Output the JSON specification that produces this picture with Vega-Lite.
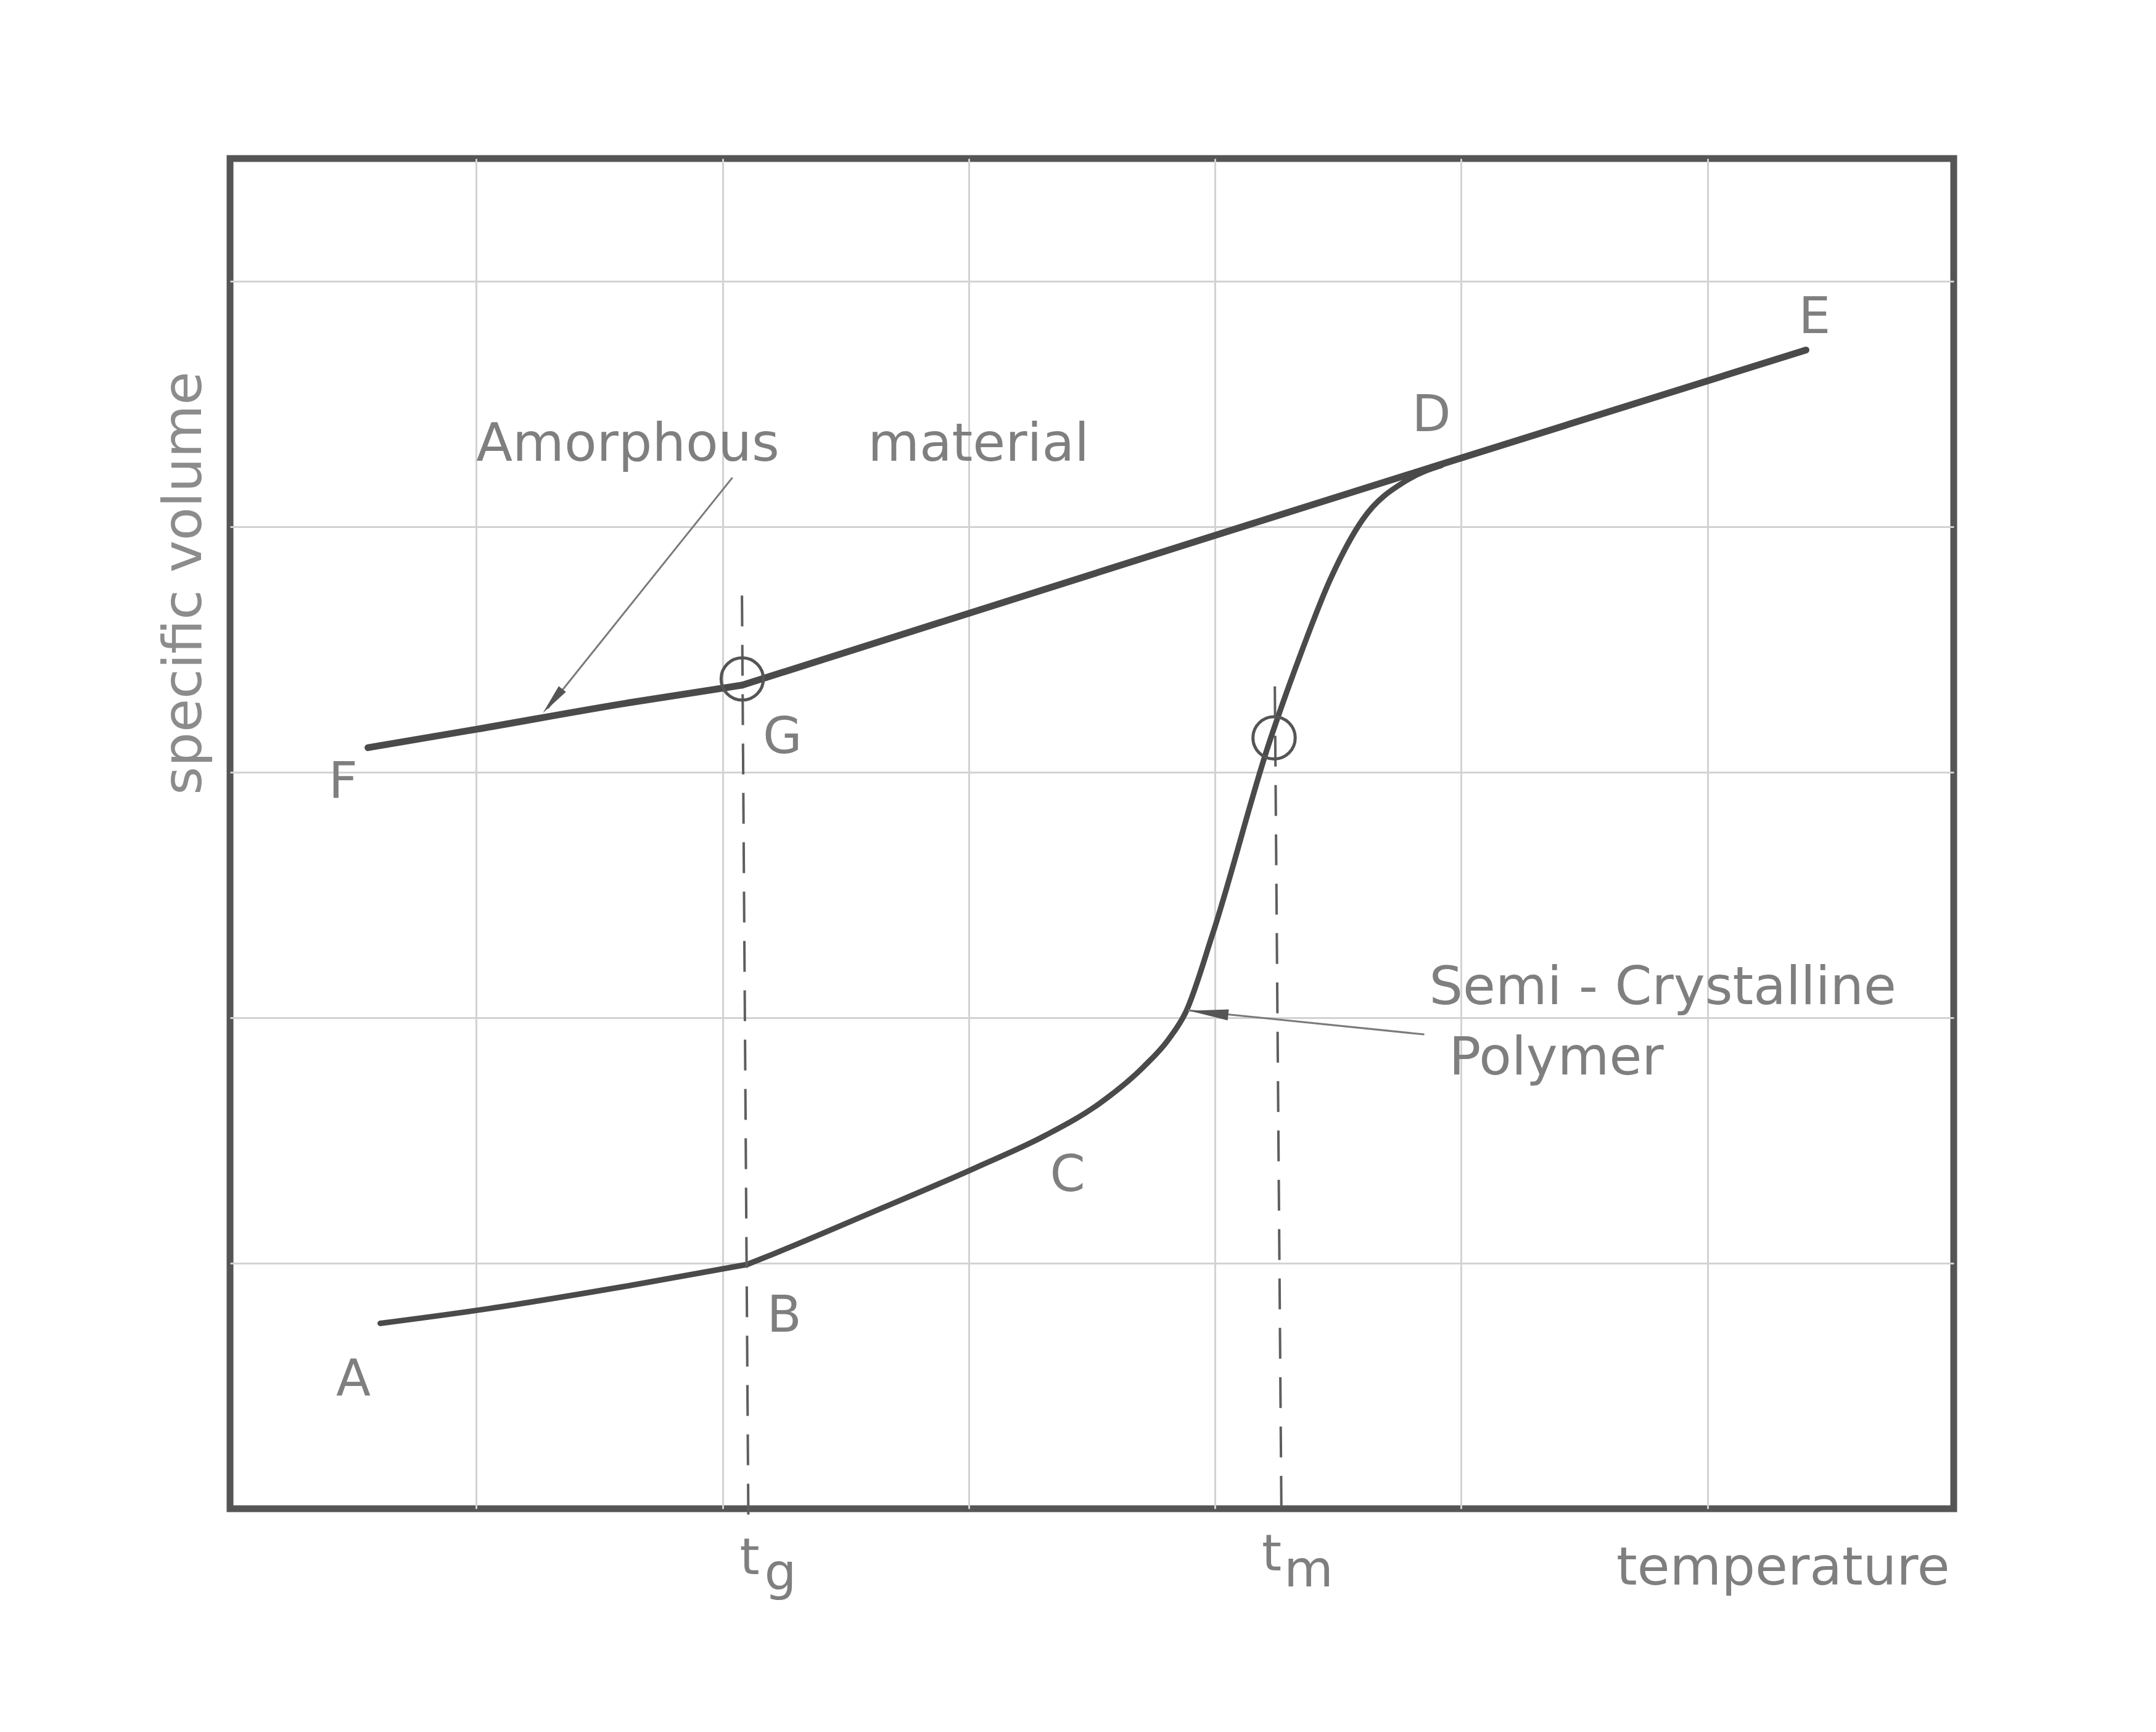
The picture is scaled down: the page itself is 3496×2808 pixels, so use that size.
{
"$schema": "https://vega.github.io/schema/vega-lite/v6.json",
"width": 2795, "height": 2189,
"autosize": {"type": "none"},
"padding": {"left": 373, "top": 257, "right": 328, "bottom": 362},
"background": "white",
"config": {
  "view": {"stroke": "#555555", "strokeWidth": 11},
  "axis": {"grid": true, "gridColor": "#d2d2d2", "gridWidth": 3, "labels": false, "ticks": false, "domain": false, "title": null}
},
"datasets": {
  "curves": [
    {"curve": "amorphous", "seg": "FG", "x": 0.56, "y": 3.10},
    {"curve": "amorphous", "seg": "FG", "x": 1.0, "y": 3.175},
    {"curve": "amorphous", "seg": "FG", "x": 1.6, "y": 3.28},
    {"curve": "amorphous", "seg": "FG", "x": 2.08, "y": 3.355},
    {"curve": "amorphous", "seg": "GE", "x": 2.08, "y": 3.355},
    {"curve": "amorphous", "seg": "GE", "x": 4.0, "y": 3.965},
    {"curve": "amorphous", "seg": "GE", "x": 4.92, "y": 4.255},
    {"curve": "amorphous", "seg": "GE", "x": 6.40, "y": 4.72},
    {"curve": "semi", "seg": "AB", "x": 0.61, "y": 0.755},
    {"curve": "semi", "seg": "AB", "x": 1.05, "y": 0.815},
    {"curve": "semi", "seg": "AB", "x": 1.6, "y": 0.905},
    {"curve": "semi", "seg": "AB", "x": 2.10, "y": 0.995},
    {"curve": "semi", "seg": "BD", "x": 2.10, "y": 0.995},
    {"curve": "semi", "seg": "BD", "x": 2.20, "y": 1.035},
    {"curve": "semi", "seg": "BD", "x": 2.59, "y": 1.20},
    {"curve": "semi", "seg": "BD", "x": 3.03, "y": 1.39},
    {"curve": "semi", "seg": "BD", "x": 3.31, "y": 1.52},
    {"curve": "semi", "seg": "BD", "x": 3.53, "y": 1.65},
    {"curve": "semi", "seg": "BD", "x": 3.71, "y": 1.80},
    {"curve": "semi", "seg": "BD", "x": 3.81, "y": 1.91},
    {"curve": "semi", "seg": "BD", "x": 3.88, "y": 2.02},
    {"curve": "semi", "seg": "BD", "x": 3.99, "y": 2.34},
    {"curve": "semi", "seg": "BD", "x": 4.22, "y": 3.12},
    {"curve": "semi", "seg": "BD", "x": 4.34, "y": 3.46},
    {"curve": "semi", "seg": "BD", "x": 4.47, "y": 3.79},
    {"curve": "semi", "seg": "BD", "x": 4.60, "y": 4.03},
    {"curve": "semi", "seg": "BD", "x": 4.78, "y": 4.19},
    {"curve": "semi", "seg": "BD", "x": 4.92, "y": 4.25}
  ],
  "dashes": [
    {"name": "tg", "x": 2.079, "y": 3.72, "x2": 2.105, "y2": -0.05},
    {"name": "tm", "x": 4.243, "y": 3.35, "x2": 4.27, "y2": -0.05}
  ],
  "leaders": [
    {"name": "amorphous", "x": 2.04, "y": 4.20, "x2": 1.29, "y2": 3.26},
    {"name": "semi", "x": 4.85, "y": 1.932, "x2": 3.89, "y2": 2.03}
  ],
  "arrowA": [{"x": 1.31, "y": 3.29}],
  "arrowS": [{"x": 3.975, "y": 2.02}],
  "circles": [
    {"name": "G", "x": 2.08, "y": 3.38},
    {"name": "tm", "x": 4.24, "y": 3.14}
  ],
  "letters": [
    {"label": "A", "x": 0.431, "y": 0.462},
    {"label": "B", "x": 2.18, "y": 0.72},
    {"label": "C", "x": 3.33, "y": 1.294},
    {"label": "D", "x": 4.80, "y": 4.39},
    {"label": "E", "x": 6.37, "y": 4.79},
    {"label": "F", "x": 0.40, "y": 2.894},
    {"label": "G", "x": 2.164, "y": 3.078},
    {"label": "t", "x": 2.07, "y": -0.266},
    {"label": "g", "x": 2.17, "y": -0.33},
    {"label": "t", "x": 4.19, "y": -0.25},
    {"label": "m", "x": 4.28, "y": -0.317}
  ],
  "words": [
    {"label": "Amorphous", "x": 1.0, "y": 4.27},
    {"label": "material", "x": 2.59, "y": 4.27},
    {"label": "Semi - Crystalline", "x": 4.87, "y": 2.055},
    {"label": "Polymer", "x": 4.95, "y": 1.77},
    {"label": "temperature", "x": 5.63, "y": -0.31}
  ],
  "ytitle": [{"label": "specific volume", "x": -0.183, "y": 3.77}]
},
"layer": [
  {
    "data": {"name": "curves"},
    "transform": [{"filter": "datum.curve === 'amorphous'"}],
    "mark": {"type": "line", "color": "#4a4a4a", "strokeWidth": 11, "interpolate": "monotone", "strokeCap": "round"},
    "encoding": {
      "x": {"field": "x", "type": "quantitative", "scale": {"domain": [0, 7], "nice": false, "zero": false}, "axis": {"values": [1, 2, 3, 4, 5, 6]}},
      "y": {"field": "y", "type": "quantitative", "scale": {"domain": [0, 5.5], "nice": false, "zero": false}, "axis": {"values": [1, 2, 3, 4, 5]}},
      "detail": {"field": "seg"}
    }
  },
  {
    "data": {"name": "curves"},
    "transform": [{"filter": "datum.curve === 'semi'"}],
    "mark": {"type": "line", "color": "#4a4a4a", "strokeWidth": 9, "interpolate": "monotone", "strokeCap": "round"},
    "encoding": {
      "x": {"field": "x", "type": "quantitative"},
      "y": {"field": "y", "type": "quantitative"},
      "detail": {"field": "seg"}
    }
  },
  {
    "data": {"name": "dashes"},
    "mark": {"type": "rule", "color": "#5e5e5e", "strokeWidth": 4, "strokeDash": [50, 30]},
    "encoding": {
      "x": {"field": "x", "type": "quantitative"},
      "y": {"field": "y", "type": "quantitative"},
      "x2": {"field": "x2"},
      "y2": {"field": "y2"}
    }
  },
  {
    "data": {"name": "leaders"},
    "mark": {"type": "rule", "color": "#7a7a7a", "strokeWidth": 3},
    "encoding": {
      "x": {"field": "x", "type": "quantitative"},
      "y": {"field": "y", "type": "quantitative"},
      "x2": {"field": "x2"},
      "y2": {"field": "y2"}
    }
  },
  {
    "data": {"name": "arrowA"},
    "mark": {"type": "point", "shape": "M0,-1L0.3,1L-0.3,1Z", "filled": true, "color": "#555555", "size": 2500, "angle": 219, "opacity": 1},
    "encoding": {
      "x": {"field": "x", "type": "quantitative"},
      "y": {"field": "y", "type": "quantitative"}
    }
  },
  {
    "data": {"name": "arrowS"},
    "mark": {"type": "point", "shape": "M0,-1L0.28,1L-0.28,1Z", "filled": true, "color": "#555555", "size": 4000, "angle": 276, "opacity": 1},
    "encoding": {
      "x": {"field": "x", "type": "quantitative"},
      "y": {"field": "y", "type": "quantitative"}
    }
  },
  {
    "data": {"name": "circles"},
    "mark": {"type": "point", "shape": "circle", "filled": false, "color": "#555555", "size": 4700, "strokeWidth": 5, "opacity": 1},
    "encoding": {
      "x": {"field": "x", "type": "quantitative"},
      "y": {"field": "y", "type": "quantitative"}
    }
  },
  {
    "data": {"name": "letters"},
    "mark": {"type": "text", "align": "left", "baseline": "alphabetic", "font": "DejaVu Sans", "fontSize": 82, "color": "#7f7f7f"},
    "encoding": {
      "x": {"field": "x", "type": "quantitative"},
      "y": {"field": "y", "type": "quantitative"},
      "text": {"field": "label"}
    }
  },
  {
    "data": {"name": "words"},
    "mark": {"type": "text", "align": "left", "baseline": "alphabetic", "font": "DejaVu Sans", "fontSize": 86, "color": "#7f7f7f"},
    "encoding": {
      "x": {"field": "x", "type": "quantitative"},
      "y": {"field": "y", "type": "quantitative"},
      "text": {"field": "label"}
    }
  },
  {
    "data": {"name": "ytitle"},
    "mark": {"type": "text", "align": "center", "baseline": "middle", "angle": 270, "font": "DejaVu Sans", "fontSize": 88, "color": "#8c8c8c"},
    "encoding": {
      "x": {"field": "x", "type": "quantitative"},
      "y": {"field": "y", "type": "quantitative"},
      "text": {"field": "label"}
    }
  }
]
}
